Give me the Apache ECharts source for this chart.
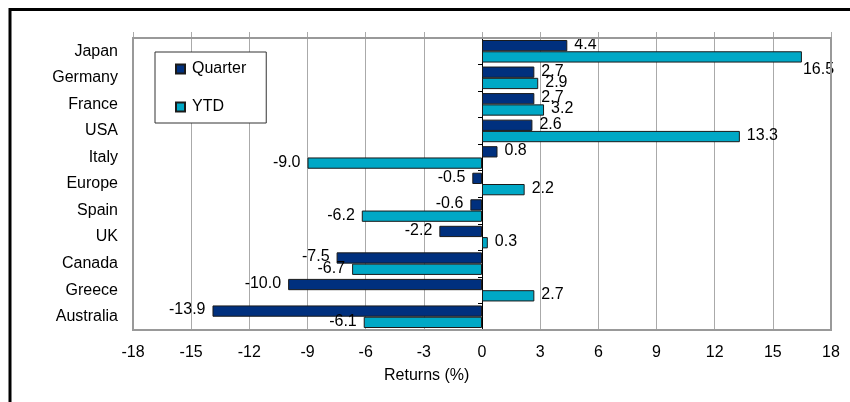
<!DOCTYPE html>
<html>
<head>
<meta charset="utf-8">
<script src="https://cdn.jsdelivr.net/npm/echarts@6/dist/echarts.min.js"></script>
<style>
  html, body { margin: 0; padding: 0; background: #fff; }
  #chart { width: 850px; height: 402px; }
</style>
</head>
<body>
<div id="chart"></div>
<script>
// Market returns by country, quarter and year-to-date (%)
var countries = ['Japan', 'Germany', 'France', 'USA', 'Italy', 'Europe', 'Spain', 'UK', 'Canada', 'Greece', 'Australia'];
var quarterReturns = [4.4, 2.7, 2.7, 2.6, 0.8, -0.5, -0.6, -2.2, -7.5, -10.0, -13.9];
var ytdReturns = [16.5, 2.9, 3.2, 13.3, -9.0, 2.2, -6.2, 0.3, -6.7, 2.7, -6.1];
var seriesNames = ['Quarter', 'YTD'];
var axisTitle = 'Returns (%)';
var xMin = -18, xMax = 18, xStep = 3;

var FONT = 'Liberation Sans, Arial, sans-serif';

// Value labels sit past the bar end; a label that would run past the
// axis end is tucked underneath the end of its bar instead.
function barData(values) {
  return values.map(function (v) {
    var label = { position: v >= 0 ? 'right' : 'left', offset: [0, -1] };
    if (v > xMax - 3) {
      label = { position: 'right', offset: [-6, 13] };
    }
    return { value: v, label: label };
  });
}

function barSeries(name, values, color) {
  return {
    name: name,
    type: 'bar',
    xAxisIndex: 0,
    yAxisIndex: 1,
    barGap: '0%',
    barCategoryGap: '15%',
    itemStyle: { color: color, borderColor: '#1a1a1a', borderWidth: 1 },
    label: {
      show: true,
      distance: 7,
      color: '#000',
      fontFamily: FONT,
      fontSize: 16,
      formatter: function (p) { return p.value.toFixed(1); }
    },
    data: barData(values)
  };
}

var chart = echarts.init(document.getElementById('chart'), null, { renderer: 'canvas' });

chart.setOption({
  animation: false,
  backgroundColor: '#fff',
  textStyle: { fontFamily: FONT },
  graphic: [{
    type: 'rect',
    shape: { x: 10, y: 9.5, width: 900, height: 500 },
    style: { fill: 'none', stroke: '#000', lineWidth: 3 },
    silent: true,
    z: 100
  }],
  title: {
    text: axisTitle,
    left: 384,
    top: 368,
    padding: 0,
    textStyle: { fontFamily: FONT, fontSize: 16, fontWeight: 'normal', color: '#000' }
  },
  legend: {
    orient: 'vertical',
    left: 155,
    top: 52,
    padding: [9, 20, 8, 20],
    itemGap: 22,
    itemWidth: 9,
    itemHeight: 9,
    icon: 'rect',
    backgroundColor: '#fff',
    borderColor: '#333',
    borderWidth: 1,
    textStyle: { fontFamily: FONT, fontSize: 16, color: '#000', padding: [0, 0, 0, 2] },
    data: seriesNames
  },
  grid: [
    { left: 133, right: 19, top: 38, bottom: 72, show: true, borderColor: '#999', borderWidth: 2, backgroundColor: 'transparent', z: 3 },
    { left: 133, right: 19, top: 32, bottom: 72, show: false }
  ],
  xAxis: [
    {
      type: 'value', gridIndex: 0, min: xMin, max: xMax, interval: xStep,
      axisLine: { show: false }, axisTick: { show: false },
      splitLine: { show: false },
      axisLabel: { color: '#000', fontFamily: FONT, fontSize: 16, margin: 15 }
    },
    {
      type: 'value', gridIndex: 1, min: xMin, max: xMax, interval: xStep,
      axisLine: { show: false }, axisTick: { show: false }, axisLabel: { show: false },
      splitLine: { show: true, lineStyle: { color: '#aaa', width: 1 } }
    }
  ],
  yAxis: [
    {
      type: 'category', gridIndex: 0, data: countries, inverse: true, position: 'left',
      axisLine: { show: false, onZero: false }, axisTick: { show: false },
      axisLabel: { color: '#000', fontFamily: FONT, fontSize: 16, margin: 15, padding: [0, 0, 4, 0] }
    },
    {
      type: 'category', gridIndex: 0, data: countries, inverse: true, position: 'left',
      axisLine: { show: true, onZero: true, lineStyle: { color: '#000', width: 1 } },
      axisTick: { show: true, length: 4, lineStyle: { color: '#000', width: 1 } },
      axisLabel: { show: false }
    },
    { type: 'value', gridIndex: 1, min: 0, max: 1, show: false }
  ],
  series: [
    barSeries(seriesNames[0], quarterReturns, '#00307e'),
    barSeries(seriesNames[1], ytdReturns, '#00a8c6')
  ]
});
</script>
</body>
</html>
